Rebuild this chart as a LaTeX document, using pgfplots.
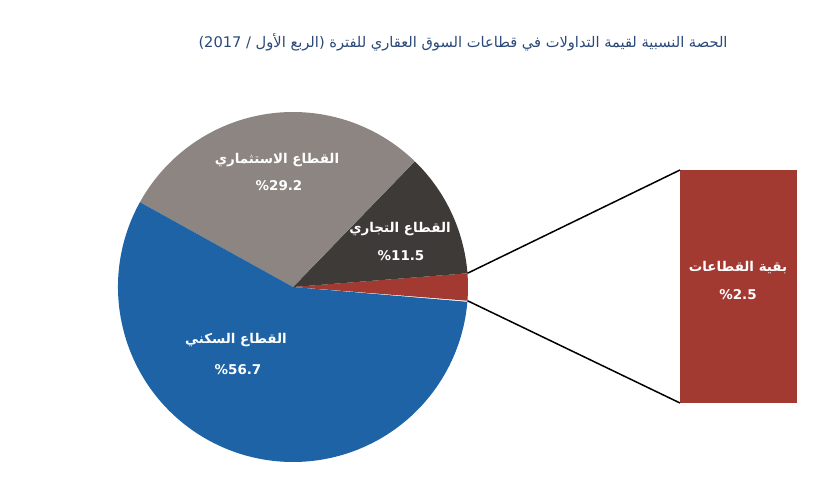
\documentclass[border=0pt]{standalone}
\usepackage{pgfplots}
\pgfplotsset{compat=1.18}
\usepackage{pgfplotstable}
\usepackage{fontspec}
\setmainfont{DejaVu Sans}
\newfontfamily\arabicfont[Script=Arabic]{DejaVu Sans}
\TeXXeTstate=1
\definecolor{pieBlue}{HTML}{1D63A5}
\definecolor{pieGray}{HTML}{8C8581}
\definecolor{pieDark}{HTML}{3E3A37}
\definecolor{pieRed}{HTML}{A23A32}
\definecolor{titleBlue}{HTML}{2A4878}
\pgfplotstableread[col sep=comma]{
name,value
other,2.5
commercial,11.5
investment,29.2
residential,56.7
}\piedata
\begin{document}
\begin{tikzpicture}
\pgfplotstablegetelem{0}{value}\of\piedata \let\va\pgfplotsretval
\pgfplotstablegetelem{1}{value}\of\piedata \let\vb\pgfplotsretval
\pgfplotstablegetelem{2}{value}\of\piedata \let\vc\pgfplotsretval
\pgfplotstablegetelem{3}{value}\of\piedata \let\vd\pgfplotsretval
\pgfmathsetmacro{\aA}{-\va*1.8}
\pgfmathsetmacro{\aB}{\aA+\va*3.6}
\pgfmathsetmacro{\aC}{\aB+\vb*3.6}
\pgfmathsetmacro{\aD}{\aC+\vc*3.6}
\pgfmathsetmacro{\aE}{\aD+\vd*3.6}
\begin{axis}[at={(0,0)}, anchor=south west, width=816bp, height=500bp,
  scale only axis, xmin=0, xmax=816, ymin=0, ymax=500, hide axis, clip=false]
% pie wedges
\fill[pieRed] (axis cs:293,213) -- ++(\aA:175bp) arc[start angle=\aA, end angle=\aB, radius=175bp] -- cycle;
\fill[pieDark] (axis cs:293,213) -- ++(\aB:175bp) arc[start angle=\aB, end angle=\aC, radius=175bp] -- cycle;
\fill[pieGray] (axis cs:293,213) -- ++(\aC:175bp) arc[start angle=\aC, end angle=\aD, radius=175bp] -- cycle;
\fill[pieBlue] (axis cs:293,213) -- ++(\aD:175bp) arc[start angle=\aD, end angle=\aE, radius=175bp] -- cycle;
% bar of the rest
\addplot[fill=pieRed, draw=none] coordinates {(680,97) (797,97) (797,330) (680,330)} -- cycle;
% connector lines
\draw[black, line width=1.5bp] (axis cs:293,213) ++(\aB:175bp) -- (axis cs:680,330);
\draw[black, line width=1.5bp] (axis cs:293,213) ++(\aA:175bp) -- (axis cs:680,97);
% labels
\begin{scope}[every node/.style={text=white, font=\fontsize{13.5}{15}\selectfont\bfseries}]
\node at (axis cs:277,340) {\arabicfont\bfseries\beginR القطاع الاستثماري\endR};
\node at (axis cs:279,314) {\%29.2};
\node at (axis cs:400,271) {\arabicfont\bfseries\beginR القطاع التجاري\endR};
\node at (axis cs:401,244) {\%11.5};
\node at (axis cs:236,160) {\arabicfont\bfseries\beginR القطاع السكني\endR};
\node at (axis cs:238,130) {\%56.7};
\node at (axis cs:738,232) {\arabicfont\bfseries\beginR بقية القطاعات\endR};
\node at (axis cs:738,205) {\%2.5};
\end{scope}
\node[anchor=east, text=titleBlue, font=\fontsize{14.7}{17}\selectfont] at (axis cs:731,458)
  {\arabicfont\beginR الحصة النسبية لقيمة التداولات في قطاعات السوق العقاري للفترة (الربع الأول / \beginL 2017\endL{})\endR};
\end{axis}
\pgfresetboundingbox
\path (0,0) rectangle (816bp,500bp);
\end{tikzpicture}
\end{document}
